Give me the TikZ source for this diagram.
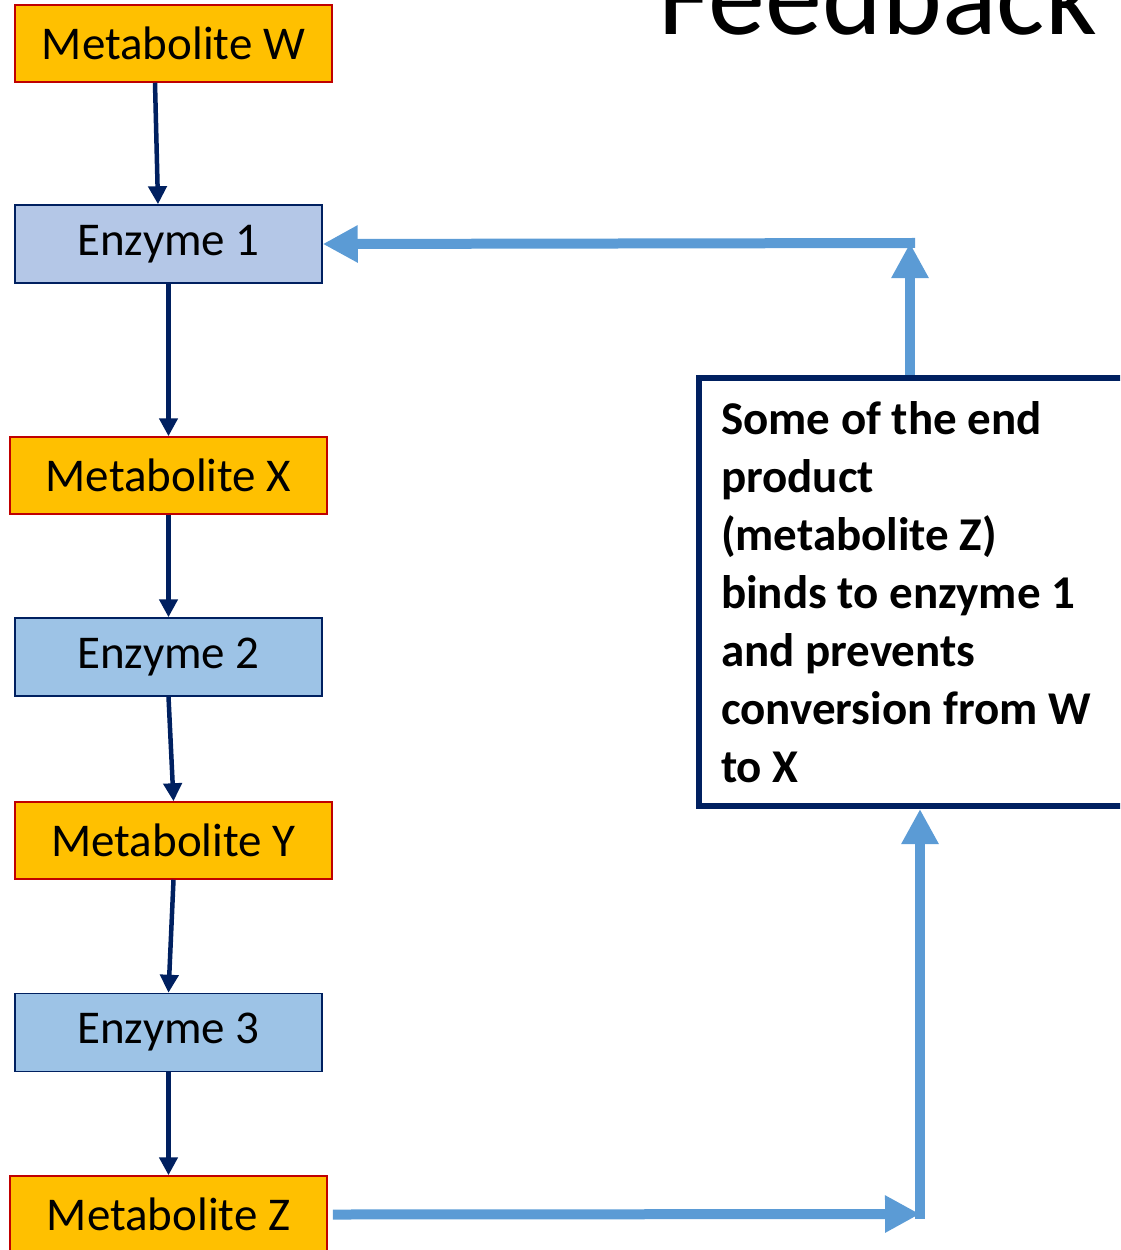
\documentclass[tikz,border=0pt]{standalone}
\usepackage{fontspec}
\setmainfont{Carlito}
\usetikzlibrary{arrows.meta}
\definecolor{metabfill}{HTML}{FFC000}
\definecolor{metabline}{HTML}{C00000}
\definecolor{enzfill}{HTML}{9DC3E6}
\definecolor{enzfilllight}{HTML}{B4C7E7}
\definecolor{navy}{HTML}{002060}
\definecolor{fbblue}{HTML}{5B9BD5}
\begin{document}
\begin{tikzpicture}[x = 1pt, y = -1pt,
  every node/.append style={font=\fontsize{47}{58}\selectfont, inner sep = 0pt},
  metab/.style={fill = metabfill, draw = metabline, line width = 1.5pt, minimum width = 317pt, minimum height = 77pt},
  enzyme/.style={fill = enzfill, draw = navy, line width = 1.5pt, minimum width = 307pt, minimum height = 78pt},
  flow/.style={draw = navy, line width = 4.5pt, -{Triangle[length = 18pt, width = 18pt]}},
  feedback/.style={draw = fbblue, line width = 10pt, -{Triangle[length = 35pt, width = 35pt]}},
  notebox/.style={draw = navy, line width = 6pt, fill = white, anchor = north west, text width = 410pt, align = flush left, inner xsep = 22pt, minimum height = 428pt, font=\fontsize{47}{58}\selectfont\bfseries}]

  \useasboundingbox (0, 0) rectangle (1120, 1250);
  \clip (0, 0) rectangle (1120, 1250);

  \node (title) [anchor = base west, font=\fontsize{114}{120}\selectfont] at (658, 34) {Feedback};

  \node (W) [metab] at (173.5, 43.5) {Metabolite W};
  \node (E1) [enzyme, fill = enzfilllight] at (168.5, 244) {Enzyme 1};
  \node (X) [metab] at (168.5, 475.5) {Metabolite X};
  \node (E2) [enzyme] at (168.5, 657) {Enzyme 2};
  \node (Y) [metab] at (173.5, 840.5) {Metabolite Y};
  \node (E3) [enzyme] at (168.5, 1032.5) {Enzyme 3};
  \node (Z) [metab] at (168.5, 1214.5) {Metabolite Z};

  \node (note) [notebox] at (696, 375) {Some of the end\\ product\\ (metabolite Z)\\ binds to enzyme 1\\ and prevents\\ conversion from W\\ to X};

  % pathway
  \draw [flow] ([xshift = -18.5pt]W.south) -- ([xshift = -10.5pt]E1.north);
  \draw [flow] (E1) -- (X);
  \draw [flow] (X) -- (E2);
  \draw [flow] (E2.south) -- (Y.north);
  \draw [flow] (Y.south) -- (E3.north);
  \draw [flow] (E3) -- (Z);

  % feedback loop
  \coordinate (up) at (910, 243);
  \coordinate (low) at (920, 1214);
  \draw [feedback] ([xshift = 5pt]Z.east) -- (low);
  \draw [feedback, shorten <= -5pt] (low) -- (low |- note.south);
  \draw [feedback] (up |- note.north) -- (up);
  \draw [feedback, shorten <= -5pt] (up) -- (E1.east);

\end{tikzpicture}
\end{document}
